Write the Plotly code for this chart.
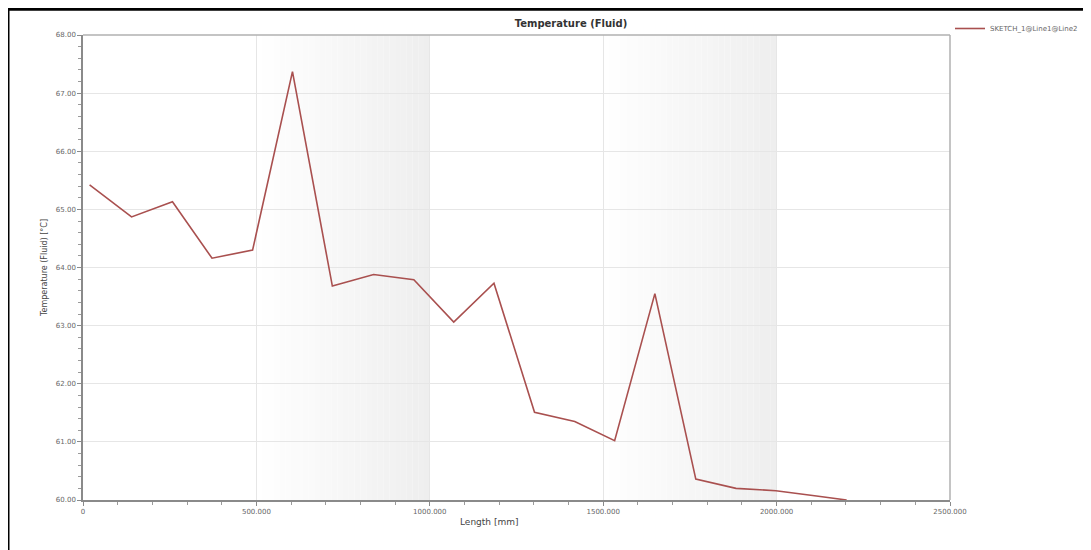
import plotly.graph_objects as go

# ---- data ----
length_mm = [19, 140, 258, 372, 489, 604, 719, 838, 954, 1069,
             1185, 1302, 1418, 1533, 1649, 1767, 1883, 1998, 2115, 2202]
temperature_c = [65.42, 64.87, 65.13, 64.16, 64.30, 67.37, 63.68, 63.88, 63.79, 63.06,
                 63.73, 61.51, 61.35, 61.02, 63.55, 60.36, 60.20, 60.16, 60.07, 60.00]
series_name = "SKETCH_1@Line1@Line2"

x_tick_vals = [0, 500, 1000, 1500, 2000, 2500]
x_tick_text = ["0", "500.000", "1000.000", "1500.000", "2000.000", "2500.000"]
y_tick_vals = [60, 61, 62, 63, 64, 65, 66, 67, 68]
y_tick_text = ["60.00", "61.00", "62.00", "63.00", "64.00", "65.00", "66.00", "67.00", "68.00"]

band_starts = [500, 1500]
band_ends = [1000, 2000]

W, H = 1083, 542
L, T, PW, PH = 75, 27, 867, 465

fig = go.Figure()

fig.add_trace(go.Scatter(
    x=length_mm, y=temperature_c, mode="lines", name=series_name,
    line=dict(color="#a9504f", width=1.6),
    showlegend=True,
))

# gradient bands (white -> light grey) built from stepped strips
n_steps = 30
for s, e in zip(band_starts, band_ends):
    w = (e - s) / n_steps
    for i in range(n_steps):
        t = (i + 0.5) / n_steps
        g = int(round(255 - t * 17))
        fig.add_shape(type="rect", xref="x", yref="paper",
                      x0=s + i * w, x1=s + (i + 1) * w, y0=0, y1=1,
                      fillcolor=f"rgb({g},{g},{g})", line=dict(width=0),
                      layer="below")

# outer black frame (left and top edges visible)
px = lambda xpix: (xpix - L) / PW
py = lambda ypix: 1 - (ypix - T) / PH
fig.add_shape(type="line", xref="paper", yref="paper",
              x0=px(0.5), x1=px(0.5), y0=py(0), y1=py(H + 5),
              line=dict(color="black", width=2))
fig.add_shape(type="line", xref="paper", yref="paper",
              x0=px(0), x1=px(1078), y0=py(1.2), y1=py(1.2),
              line=dict(color="black", width=3))

fig.update_layout(
    width=W, height=H,
    margin=dict(l=L, r=W - L - PW, t=T, b=H - T - PH, autoexpand=False),
    paper_bgcolor="white", plot_bgcolor="white",
    font=dict(family="DejaVu Sans", color="#555555", size=7),
    title=dict(text="<b>Temperature (Fluid)</b>", x=563 / W, xanchor="center",
               y=1 - 15 / H, yanchor="middle",
               font=dict(size=10, color="#333333")),
    legend=dict(x=1.0, y=py(6), xanchor="left", yanchor="top",
                font=dict(size=7, color="#666666"), bgcolor="rgba(0,0,0,0)",
                itemwidth=30),
    xaxis=dict(
        range=[0, 2500], tickvals=x_tick_vals, ticktext=x_tick_text,
        showgrid=True, gridcolor="#e6e6e6", gridwidth=1,
        showline=True, linecolor="#8a8a8a", linewidth=1.5, mirror=False,
        ticks="outside", ticklen=4, tickcolor="#8a8a8a",
        minor=dict(dtick=100, ticks="outside", ticklen=3, tickcolor="#9a9a9a", showgrid=False),
        zeroline=False,
        tickfont=dict(size=7, color="#666666"),
    ),
    yaxis=dict(
        range=[60, 68], tickvals=y_tick_vals, ticktext=y_tick_text,
        showgrid=True, gridcolor="#e6e6e6", gridwidth=1,
        showline=True, linecolor="#8a8a8a", linewidth=1.5, mirror=False,
        ticks="outside", ticklen=4, tickcolor="#8a8a8a",
        minor=dict(dtick=0.2, ticks="outside", ticklen=3, tickcolor="#9a9a9a", showgrid=False),
        zeroline=False,
        title=dict(text="Temperature (Fluid) [°C]", font=dict(size=8, color="#444444"), standoff=7),
        tickfont=dict(size=7, color="#666666"),
    ),
)

fig.add_annotation(text="Length [mm]", xref="paper", yref="paper",
                   x=px(481), y=py(514), xanchor="center", yanchor="middle",
                   showarrow=False, font=dict(size=9, color="#444444"))

# light grey frame on top and right of the plot area
fig.add_shape(type="line", xref="paper", yref="paper", x0=0, x1=1, y0=1, y1=1,
              line=dict(color="#b0b0b0", width=1.5))
fig.add_shape(type="line", xref="paper", yref="paper", x0=1, x1=1, y0=0, y1=1,
              line=dict(color="#b0b0b0", width=1.5))

fig.write_html("out.html")
